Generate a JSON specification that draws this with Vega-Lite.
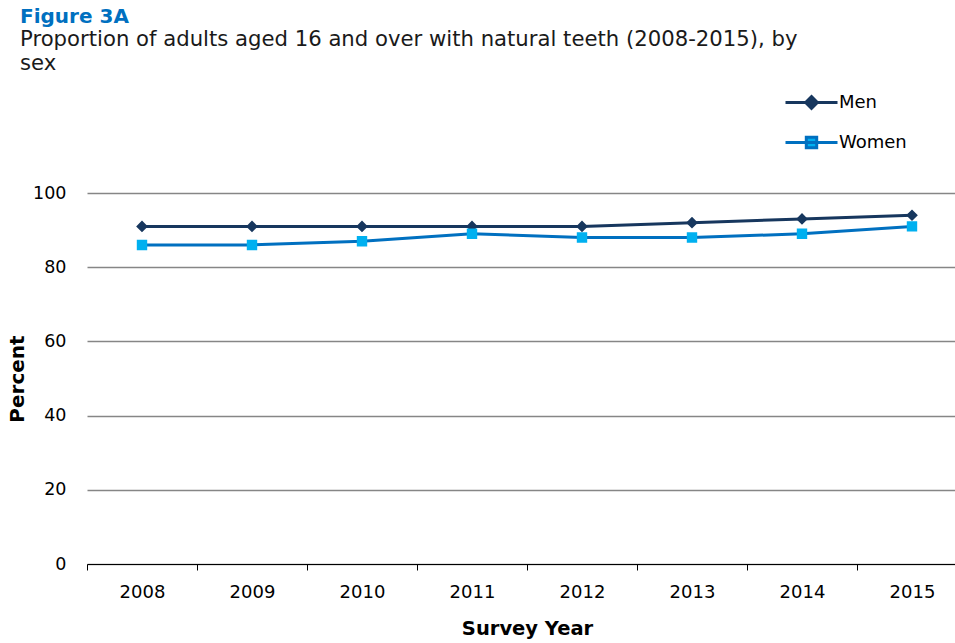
{
  "$schema": "https://vega.github.io/schema/vega-lite/v6.json",
  "autosize": "none",
  "width": 880,
  "height": 371,
  "padding": {"left": 87, "top": 193, "right": 0, "bottom": 79},
  "background": "white",
  "config": {"view": {"stroke": null}, "font": "DejaVu Sans"},
  "title": {
    "text": "Figure 3A",
    "subtitle": ["Proportion of adults aged 16 and over with natural teeth (2008-2015), by", "sex"],
    "anchor": "start",
    "frame": "group",
    "dx": -67,
    "offset": 14,
    "font": "DejaVu Sans",
    "fontSize": 20,
    "fontWeight": "bold",
    "color": "#0070C0",
    "subtitleFont": "DejaVu Sans",
    "subtitleFontSize": 21.2,
    "subtitleColor": "#1a1a1a",
    "subtitleLineHeight": 24,
    "subtitlePadding": 2
  },
  "data": {
    "values": [
      {"year": "2008", "sex": "Men", "pct": 91},
      {"year": "2009", "sex": "Men", "pct": 91},
      {"year": "2010", "sex": "Men", "pct": 91},
      {"year": "2011", "sex": "Men", "pct": 91},
      {"year": "2012", "sex": "Men", "pct": 91},
      {"year": "2013", "sex": "Men", "pct": 92},
      {"year": "2014", "sex": "Men", "pct": 93},
      {"year": "2015", "sex": "Men", "pct": 94},
      {"year": "2008", "sex": "Women", "pct": 86},
      {"year": "2009", "sex": "Women", "pct": 86},
      {"year": "2010", "sex": "Women", "pct": 87},
      {"year": "2011", "sex": "Women", "pct": 89},
      {"year": "2012", "sex": "Women", "pct": 88},
      {"year": "2013", "sex": "Women", "pct": 88},
      {"year": "2014", "sex": "Women", "pct": 89},
      {"year": "2015", "sex": "Women", "pct": 91}
    ]
  },
  "encoding": {
    "x": {
      "field": "year", "type": "ordinal", "title": "Survey Year",
      "scale": {"paddingInner": 0, "paddingOuter": 0},
      "axis": {
        "labelAngle": 0, "tickBand": "extent", "domainColor": "#000000", "domainWidth": 1.2,
        "tickColor": "#000000", "tickSize": 6, "labelFontSize": 18, "labelColor": "#000000",
        "labelPadding": 13, "titleFontSize": 19.5, "titleFontWeight": "bold", "titleColor": "#000000",
        "titlePadding": 18, "grid": false
      }
    },
    "y": {
      "field": "pct", "type": "quantitative", "title": "Percent",
      "scale": {"domain": [0, 100]},
      "axis": {
        "values": [0, 20, 40, 60, 80, 100], "domain": false, "ticks": false,
        "gridColor": "#868686", "gridWidth": 1.5, "labelFontSize": 17.5, "labelColor": "#000000",
        "labelPadding": 21, "titleFontSize": 20, "titleFontWeight": "bold", "titleColor": "#000000",
        "titlePadding": 5
      }
    }
  },
  "layer": [
    {
      "mark": {"type": "line", "strokeWidth": 3},
      "encoding": {
        "stroke": {"field": "sex", "type": "nominal",
          "scale": {"domain": ["Men", "Women"], "range": ["#17375E", "#0070C0"]}}
      }
    },
    {
      "mark": {"type": "point", "filled": true, "size": 676, "strokeWidth": 0, "opacity": 1},
      "encoding": {
        "shape": {"field": "sex", "type": "nominal",
          "scale": {"domain": ["Men", "Women"], "range": [
            "M-2,0L2,0M0,-0.45L0.45,0L0,0.45L-0.45,0Z",
            "M-2,0L2,0M-0.4,-0.4L0.4,-0.4L0.4,0.4L-0.4,0.4Z"
          ]},
          "legend": {
            "title": null, "orient": "none", "legendX": 710, "legendY": -105,
            "padding": 0, "symbolOffset": 0, "labelOffset": 13, "rowPadding": 13,
            "labelFontSize": 18, "labelColor": "#000000", "symbolStrokeWidth": 3,
            "symbolSize": 676,
            "encode": {"symbols": {"update": {"strokeWidth": {"value": 3}, "opacity": {"value": 1}}}}
          }
        },
        "fill": {"field": "sex", "type": "nominal",
          "scale": {"domain": ["Men", "Women"], "range": ["#17375E", "#00B0F0"]}},
        "stroke": {"field": "sex", "type": "nominal",
          "scale": {"domain": ["Men", "Women"], "range": ["#17375E", "#0070C0"]}}
      }
    }
  ]
}
